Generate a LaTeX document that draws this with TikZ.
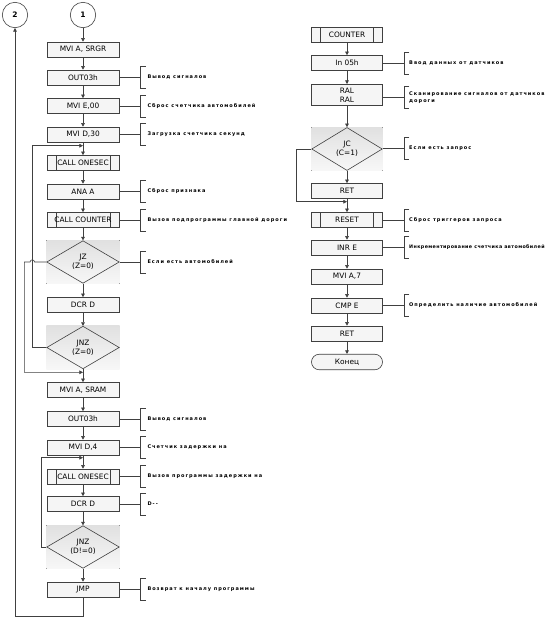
\documentclass[tikz,border=0pt]{standalone}
\usepackage{fontspec}
\setmainfont{DejaVu Sans}
\newfontfamily\cmtfont[LetterSpace=20]{DejaVu Sans}
\newfontfamily\cmtfontn[LetterSpace=8]{DejaVu Sans}
\usetikzlibrary{arrows.meta,shapes.geometric,backgrounds}
\tikzset{
  ln/.style={draw=black!75, line width=0.6pt},
  arr/.style={ln, -{Triangle[length=3.6pt,width=3.6pt]}},
  lbl/.style={font=\fontsize{7.4}{8.7}\selectfont, text=black},
  box/.style={ln, lbl, rectangle, fill=black!4, minimum width=72pt, minimum height=15pt, inner sep=0pt, align=center},
  rbox/.style={box, minimum width=70.6pt},
  subbox/.style={box, path picture={
      \draw[black!75, line width=0.6pt]
        ([xshift=9pt]path picture bounding box.north west) -- ([xshift=9pt]path picture bounding box.south west)
        ([xshift=-9pt]path picture bounding box.north east) -- ([xshift=-9pt]path picture bounding box.south east);}},
  rsubbox/.style={subbox, minimum width=70.6pt},
  dia/.style={ln, lbl, shape=diamond, aspect=1.7, minimum width=72.6pt, minimum height=42.6pt, inner sep=0pt, align=center},
  diabg/.style={top color=black!12, bottom color=black!3, draw=none},
  term/.style={ln, lbl, rectangle, rounded corners=7.7pt, fill=black!4, minimum width=71pt, minimum height=15.5pt, inner sep=0pt},
  conn/.style={ln, lbl, circle, fill=white, minimum size=25.4pt, inner sep=0pt, font=\fontsize{7.5}{9}\selectfont\bfseries},
  cmt/.style={anchor=west, inner sep=0pt, font=\cmtfont\bfseries\fontsize{5}{6.7}\selectfont, align=left, text=black},
}
\newcommand\mycmt[5]{% #1 source node, #2 bracket x, #3 y, #4 text x, #5 text
  \coordinate (k#1) at (#2,#3);
  \draw[ln] (#1.east |- k#1) -- (k#1);
  \draw[ln] ([shift={(5pt,11pt)}]k#1) -- ([shift={(0pt,11pt)}]k#1) -- ([shift={(0pt,-11pt)}]k#1) -- ([shift={(5pt,-11pt)}]k#1);
  \node[cmt] (t#1) at (#4,#3) {#5};
}
\begin{document}
\begin{tikzpicture}[x=1pt,y=-1pt]
\useasboundingbox (0,0) rectangle (556,627);

% ---------- left column ----------
\node[conn] (c1) at (83,15) {1};
\node[conn] (c2) at (15,15) {2};
\node[box] (b1) at (83,49.5) {MVI A, SRGR};
\node[box] (b2) at (83,77.5) {OUT03h};
\node[box] (b3) at (83,106) {MVI E,00};
\node[box] (b4) at (83,134.5) {MVI D,30};
\node[subbox] (b5) at (83,163) {CALL ONESEC};
\node[box] (b6) at (83,191.5) {ANA A};
\node[subbox] (b7) at (83,220) {CALL COUNTER};
\node[dia] (d1) at (83,262) {JZ\\(Z=0)};
\node[box] (b8) at (83,305) {DCR D};
\node[dia] (d2) at (83,347.5) {JNZ\\(Z=0)};
\node[box] (b9) at (83,390) {MVI A, SRAM};
\node[box] (b10) at (83,419) {OUT03h};
\node[box] (b11) at (83,447.5) {MVI D,4};
\node[subbox] (b12) at (83,476.5) {CALL ONESEC};
\node[box] (b13) at (83,504) {DCR D};
\node[dia] (d3) at (83,547) {JNZ\\(D!=0)};
\node[box] (b14) at (83,589.5) {JMP};

% ---------- right column ----------
\node[rsubbox] (r1) at (347,35) {COUNTER};
\node[rbox] (r2) at (347,63) {In 05h};
\node[rbox, minimum height=21.4pt] (r3) at (347,95) {RAL\\RAL};
\node[dia, minimum width=70.6pt, minimum height=43pt] (rd) at (347,149) {JC\\(C=1)};
\node[rbox] (r4) at (347,191) {RET};
\node[rsubbox] (r5) at (347,220) {RESET};
\node[rbox] (r6) at (347,247.5) {INR E};
\node[rbox] (r7) at (347,276.5) {MVI A,7};
\node[rbox] (r8) at (347,305.5) {CMP E};
\node[rbox] (r9) at (347,333.5) {RET};
\node[term] (r10) at (347,362) {Конец};

% gray backgrounds of decisions
\begin{scope}[on background layer]
  \foreach \d in {d1,d2,d3,rd}
    \fill[diabg] (\d.west |- \d.north) rectangle (\d.east |- \d.south);
\end{scope}

% join points
\coordinate (j1) at (83,145.7);
\coordinate (j2) at (83,372.3);
\coordinate (j3) at (83,457.7);
\coordinate (jr) at (347,201.7);
\coordinate (bl) at (15,616);

% ---------- main flow ----------
\draw[arr] (c1) -- (b1);
\draw[arr] (b1) -- (b2);
\draw[arr] (b2) -- (b3);
\draw[arr] (b3) -- (b4);
\draw[arr] (b4) -- (b5);
\draw[arr] (b5) -- (b6);
\draw[arr] (b6) -- (b7);
\draw[arr] (b7) -- (d1);
\draw[arr] (d1) -- (b8);
\draw[arr] (b8) -- (d2);
\draw[arr] (d2) -- (b9);
\draw[arr] (b9) -- (b10);
\draw[arr] (b10) -- (b11);
\draw[arr] (b11) -- (b12);
\draw[arr] (b12) -- (b13);
\draw[arr] (b13) -- (d3);
\draw[arr] (d3) -- (b14);

% loops
\draw[arr] (d2.west) -- (32.3,347.5) -- (32.3,145.7) -- (j1);
\draw[arr] (d1.west) -- (34.5,262) arc (0:-180:2.2) -- (24.3,262) -- (24.3,372.3) -- (j2);
\draw[arr] (d3.west) -- (41,547) -- (41,457.7) -- (j3);
\draw[arr] (b14.south) |- (bl) -- (c2.south);

% right flow
\draw[arr] (r1) -- (r2);
\draw[arr] (r2) -- (r3);
\draw[arr] (r3) -- (rd);
\draw[arr] (rd) -- (r4);
\draw[arr] (r4) -- (r5);
\draw[arr] (rd.west) -- (296.7,149) -- (296.7,201.7) -- (jr);
\draw[arr] (r5) -- (r6);
\draw[arr] (r6) -- (r7);
\draw[arr] (r7) -- (r8);
\draw[arr] (r8) -- (r9);
\draw[arr] (r9) -- (r10);

% ---------- comments ----------
\mycmt{b2}{140.7}{77.5}{147.3}{Вывод сигналов}
\mycmt{b3}{140.7}{106}{147.3}{Сброс счетчика автомобилей}
\mycmt{b4}{140.7}{134.5}{147.3}{Загрузка счетчика секунд}
\mycmt{b6}{140.7}{191.5}{147.3}{Сброс признака}
\mycmt{b7}{140.7}{220}{147.3}{Вызов подпрограммы главной дороги}
\mycmt{d1}{140.7}{262}{147.3}{Если есть автомобилей}
\mycmt{b10}{140.7}{419}{147.3}{Вывод сигналов}
\mycmt{b11}{140.7}{447.5}{147.3}{Счетчик задержки на}
\mycmt{b12}{140.7}{476.5}{147.3}{Вызов программы задержки на}
\mycmt{b13}{140.7}{504}{147.3}{D--}
\mycmt{b14}{140.7}{589.5}{147.3}{Возврат к началу программы}

\mycmt{r2}{404.3}{63}{409}{Ввод данных от датчиков}
\mycmt{r3}{404.3}{97.5}{409}{Сканирование сигналов от датчиков\\дороги}
\mycmt{rd}{404.3}{148.5}{409}{Если есть запрос}
\mycmt{r5}{404.3}{220}{409}{Сброс триггеров запроса}
\mycmt{r6}{404.3}{247.5}{409}{\cmtfontn\bfseries\fontsize{4.8}{6.5}\selectfont Инкрементирование счетчика автомобилей}
\mycmt{r8}{404.3}{305.5}{409}{Определить наличие автомобилей}
\end{tikzpicture}
\end{document}
